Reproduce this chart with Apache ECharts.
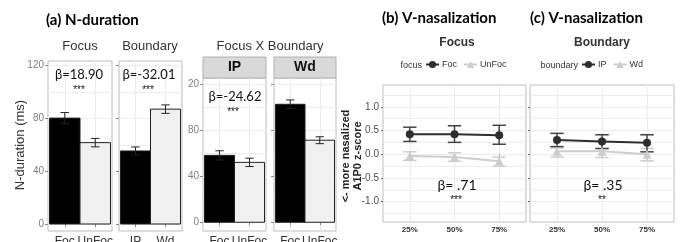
<!DOCTYPE html>
<html>
<head>
<meta charset="utf-8">
<script src="https://cdn.jsdelivr.net/npm/echarts@6/dist/echarts.min.js"></script>
<style>
  html, body { margin: 0; padding: 0; background: #fff; }
  #main { width: 680px; height: 242px; }
</style>
</head>
<body>
<div id="main"></div>
<script>
// (a) N-duration : means and error half-widths (ms)
const focusCats = ['Foc', 'UnFoc'];
const focusMeans = [80.3, 61.7];
const focusErr = [4.2, 3.2];
const boundaryCats = ['IP', 'Wd'];
const boundaryMeans = [55.4, 87.1];
const boundaryErr = [3.0, 3.2];
const interCats = ['Foc', 'UnFoc'];
const interIpMeans = [58.3, 52.2];
const interIpErr = [4.0, 3.6];
const interWdMeans = [102.8, 71.5];
const interWdErr = [3.8, 3.0];
const barTicks = [0, 40, 80, 120];
const barTickLabels = ['0', '40', '80', '120'];
const interTickLabels = ['0', '40', '80', '20']; // top label is clipped in the original
const barGridVals = [0, 20, 40, 60, 80, 100, 120];

// (b)/(c) V-nasalization : A1P0 z-score at 25/50/75%
const timeCats = ['25%', '50%', '75%'];
const focMeans = [0.42, 0.42, 0.40];
const focLow = [0.27, 0.25, 0.21];
const focHigh = [0.57, 0.60, 0.61];
const unfocMeans = [-0.04, -0.06, -0.15];
const unfocLow = [-0.13, -0.15, -0.25];
const unfocHigh = [0.05, 0.03, -0.06];
const ipMeans = [0.30, 0.27, 0.24];
const ipLow = [0.16, 0.12, 0.05];
const ipHigh = [0.44, 0.41, 0.41];
const wdMeans = [0.06, 0.06, 0.0];
const wdLow = [-0.06, -0.07, -0.14];
const wdHigh = [0.13, 0.12, 0.12];
const zTicks = [-1, -0.5, 0, 0.5, 1];
const zGridVals = [-1.25, -1, -0.75, -0.5, -0.25, 0, 0.25, 0.5, 0.75, 1, 1.25];

const chart = echarts.init(document.getElementById('main'));

const sansFont = '"Liberation Sans", Arial, sans-serif';
const calFont = 'Lato, "Open Sans", sans-serif';
const gridColor = '#ececec';
const borderColor = '#bdbdbd';

const grids = [
  { left: 48, top: 61, width: 64, height: 170 },
  { left: 119, top: 61, width: 63, height: 170 },
  { left: 203, top: 78, width: 63, height: 153 },
  { left: 274, top: 78, width: 62, height: 153 },
  { left: 383, top: 85, width: 143, height: 137 },
  { left: 530, top: 85, width: 144, height: 137 }
].map(g => Object.assign(g, {
  show: true, borderColor: borderColor, borderWidth: 1, backgroundColor: '#fff',
  containLabel: false, outerBoundsMode: 'none'
}));

const xAxes = [];
const yAxes = [];

function barAxes(g, cats, yMin, yMax, tickLabels) {
  xAxes.push({
    gridIndex: g, type: 'value', min: 0.45, max: 2.55,
    axisLine: { show: false },
    axisTick: { show: true, length: 3, customValues: [1, 2], lineStyle: { color: '#888' } },
    axisLabel: {
      customValues: [1, 2], margin: 5, fontSize: 12, color: '#333', fontFamily: sansFont,
      formatter: v => cats[Math.round(v) - 1]
    },
    splitLine: { show: true, lineStyle: { color: gridColor } }
  });
  yAxes.push({
    gridIndex: g, type: 'value', min: yMin, max: yMax,
    axisLine: { show: false },
    axisTick: { show: true, length: 3, customValues: barTicks, lineStyle: { color: '#888' } },
    axisLabel: {
      show: !!tickLabels, customValues: barTicks, margin: 4, fontSize: 10, color: '#7f7f7f', fontFamily: sansFont,
      formatter: v => tickLabels ? tickLabels[barTicks.indexOf(v)] : ''
    },
    splitLine: { show: false }
  });
  yAxes.push({
    gridIndex: g, type: 'value', min: yMin, max: yMax,
    axisLine: { show: false },
    axisTick: { show: false, customValues: barGridVals },
    axisLabel: { show: false },
    splitLine: { show: true, lineStyle: { color: gridColor } }
  });
}

function lineAxes(g, showLabels) {
  xAxes.push({
    gridIndex: g, type: 'value', min: 0.4, max: 3.6,
    axisLine: { show: false },
    axisTick: { show: true, length: 2, customValues: [1, 2, 3], lineStyle: { color: '#999' } },
    axisLabel: {
      customValues: [1, 2, 3], margin: 4, fontSize: 8, fontWeight: 'bold', color: '#333', fontFamily: sansFont,
      formatter: v => timeCats[Math.round(v) - 1]
    },
    splitLine: { show: true, lineStyle: { color: gridColor } }
  });
  yAxes.push({
    gridIndex: g, type: 'value', min: -1.43, max: 1.46,
    axisLine: { show: false },
    axisTick: { show: true, length: 2, customValues: zTicks, lineStyle: { color: '#666' } },
    axisLabel: {
      show: showLabels, customValues: zTicks, margin: 4, fontSize: 10, color: '#4d4d4d', fontFamily: sansFont,
      formatter: v => v.toFixed(1)
    },
    splitLine: { show: false }
  });
  yAxes.push({
    gridIndex: g, type: 'value', min: -1.43, max: 1.46,
    axisLine: { show: false },
    axisTick: { show: false, customValues: zGridVals },
    axisLabel: { show: false },
    splitLine: { show: true, lineStyle: { color: gridColor } }
  });
}

barAxes(0, focusCats, -5.3, 123.6, barTickLabels);
barAxes(1, boundaryCats, -5.3, 123.6, null);
barAxes(2, interCats, -7.6, 125.7, interTickLabels);
barAxes(3, interCats, -7.6, 125.7, null);
lineAxes(4, true);
lineAxes(5, false);

const barFills = ['#000000', '#f0f0f0'];

function barSeries(g, means, errs) {
  return {
    type: 'custom', name: 'bars' + g, xAxisIndex: g, yAxisIndex: g * 2,
    data: means.map((m, i) => [i + 1, m, errs[i], i]),
    renderItem: function (params, api) {
      const x = api.value(0), v = api.value(1), e = api.value(2), k = api.value(3);
      const tl = api.coord([x - 0.5, v]);
      const br = api.coord([x + 0.5, 0]);
      const lo = api.coord([x, v - e]);
      const hi = api.coord([x, v + e]);
      const cap = api.coord([x + 0.14, v])[0] - lo[0];
      return {
        type: 'group',
        children: [
          { type: 'rect', shape: { x: tl[0], y: tl[1], width: br[0] - tl[0], height: br[1] - tl[1] },
            style: { fill: barFills[k], stroke: '#222', lineWidth: 1 } },
          { type: 'line', shape: { x1: lo[0], y1: lo[1], x2: hi[0], y2: hi[1] }, style: { stroke: '#222', lineWidth: 1 } },
          { type: 'line', shape: { x1: hi[0] - cap, y1: hi[1], x2: hi[0] + cap, y2: hi[1] }, style: { stroke: '#222', lineWidth: 1 } },
          { type: 'line', shape: { x1: lo[0] - cap, y1: lo[1], x2: lo[0] + cap, y2: lo[1] }, style: { stroke: '#222', lineWidth: 1 } }
        ]
      };
    }
  };
}

function errSeries(g, name, low, high, color) {
  return {
    type: 'custom', name: name + ' err', xAxisIndex: g, yAxisIndex: g * 2, z: 2,
    data: low.map((l, i) => [i + 1, l, high[i]]),
    renderItem: function (params, api) {
      const x = api.value(0);
      const lo = api.coord([x, api.value(1)]);
      const hi = api.coord([x, api.value(2)]);
      const cap = api.coord([x + 0.15, 0])[0] - lo[0];
      const st = { stroke: color, lineWidth: 1.5 };
      return {
        type: 'group',
        children: [
          { type: 'line', shape: { x1: lo[0], y1: lo[1], x2: hi[0], y2: hi[1] }, style: st },
          { type: 'line', shape: { x1: hi[0] - cap, y1: hi[1], x2: hi[0] + cap, y2: hi[1] }, style: st },
          { type: 'line', shape: { x1: lo[0] - cap, y1: lo[1], x2: lo[0] + cap, y2: lo[1] }, style: st }
        ]
      };
    }
  };
}

function lineSeries(g, name, means, color, symbol) {
  return {
    type: 'line', name: name, xAxisIndex: g, yAxisIndex: g * 2, z: 3,
    data: means.map((m, i) => [i + 1, m]),
    symbol: symbol, symbolSize: symbol === 'circle' ? 8 : 9, showSymbol: true,
    itemStyle: { color: color },
    lineStyle: { color: color, width: 2 },
    emphasis: { disabled: true }
  };
}

const darkCol = '#2e2e2e';
const lightCol = '#cdcdcd';

const series = [
  barSeries(0, focusMeans, focusErr),
  barSeries(1, boundaryMeans, boundaryErr),
  barSeries(2, interIpMeans, interIpErr),
  barSeries(3, interWdMeans, interWdErr),
  errSeries(4, 'UnFoc', unfocLow, unfocHigh, lightCol),
  errSeries(4, 'Foc', focLow, focHigh, '#444'),
  lineSeries(4, 'UnFoc', unfocMeans, lightCol, 'triangle'),
  lineSeries(4, 'Foc', focMeans, darkCol, 'circle'),
  errSeries(5, 'Wd', wdLow, wdHigh, lightCol),
  errSeries(5, 'IP', ipLow, ipHigh, '#444'),
  lineSeries(5, 'Wd', wdMeans, lightCol, 'triangle'),
  lineSeries(5, 'IP', ipMeans, darkCol, 'circle')
];

function txt(x, y, text, size, opts) {
  return Object.assign({
    type: 'text', x: x, y: y, z: 10,
    style: Object.assign({
      text: text, fontSize: size, fontFamily: sansFont, fill: '#333',
      align: 'center', verticalAlign: 'middle'
    }, (opts && opts.style) || {})
  }, (opts && opts.el) || {});
}

const graphics = [
  // facet strips
  { type: 'rect', shape: { x: 203, y: 57, width: 63, height: 21 }, style: { fill: '#d9d9d9', stroke: '#b0b0b0', lineWidth: 1 } },
  { type: 'rect', shape: { x: 274, y: 57, width: 62, height: 21 }, style: { fill: '#d9d9d9', stroke: '#b0b0b0', lineWidth: 1 } },
  txt(234.5, 67.5, 'IP', 14, { style: { fontWeight: 'bold', fill: '#111' } }),
  txt(305, 67.5, 'Wd', 14, { style: { fontWeight: 'bold', fill: '#111' } }),
  // headings
  txt(46, 20, '(a) N-duration', 15, { style: { fontFamily: calFont, fontWeight: 'bold', fill: '#000', align: 'left' } }),
  txt(382, 18, '(b) V-nasalization', 15, { style: { fontFamily: calFont, fontWeight: 'bold', fill: '#000', align: 'left' } }),
  txt(530, 18, '(c) V-nasalization', 15, { style: { fontFamily: calFont, fontWeight: 'bold', fill: '#000', align: 'left' } }),
  txt(80, 46, 'Focus', 13),
  txt(150, 46, 'Boundary', 13),
  txt(270, 46, 'Focus X Boundary', 13),
  txt(457, 43, 'Focus', 12, { style: { fontWeight: 'bold' } }),
  txt(602, 43, 'Boundary', 12, { style: { fontWeight: 'bold' } }),
  txt(422, 66, 'focus', 9, { style: { align: 'right' } }),
  txt(578, 66, 'boundary', 9, { style: { align: 'right' } }),
  // axis titles
  txt(20, 145, 'N-duration (ms)', 13, { el: { rotation: Math.PI / 2 } }),
  txt(352, 156, '<- more nasalized\nA1P0 z-score', 11, { el: { rotation: Math.PI / 2 }, style: { fontWeight: 'bold', fill: '#222', lineHeight: 12 } }),
  // statistics annotations
  txt(79, 75, 'β=18.90', 13, { style: { fontFamily: calFont, fill: '#111' } }),
  txt(79, 90, '***', 10, { style: { fill: '#111' } }),
  txt(149, 75, 'β=-32.01', 13, { style: { fontFamily: calFont, fill: '#111' } }),
  txt(148, 90, '***', 10, { style: { fill: '#111' } }),
  txt(235, 97, 'β=-24.62', 13, { style: { fontFamily: calFont, fill: '#111' } }),
  txt(233, 112, '***', 10, { style: { fill: '#111' } }),
  txt(457, 185, 'β= .71', 14, { style: { fontFamily: calFont, fill: '#111' } }),
  txt(456, 200, '***', 10, { style: { fill: '#111' } }),
  txt(603, 185, 'β= .35', 14, { style: { fontFamily: calFont, fill: '#111' } }),
  txt(602, 200, '**', 10, { style: { fill: '#111' } })
];

const legendBase = {
  top: 60, itemWidth: 13, itemHeight: 9, itemGap: 6, padding: 0,
  selectedMode: false,
  textStyle: { fontSize: 9, color: '#333', fontFamily: sansFont, padding: [0, 0, 0, -2] }
};

const option = {
  animation: false,
  backgroundColor: '#fff',
  grid: grids,
  xAxis: xAxes,
  yAxis: yAxes,
  legend: [
    Object.assign({ left: 425, data: ['Foc', 'UnFoc'] }, legendBase),
    Object.assign({ left: 581, data: ['IP', 'Wd'] }, legendBase)
  ],
  series: series,
  graphic: graphics
};

chart.setOption(option);
</script>
</body>
</html>
